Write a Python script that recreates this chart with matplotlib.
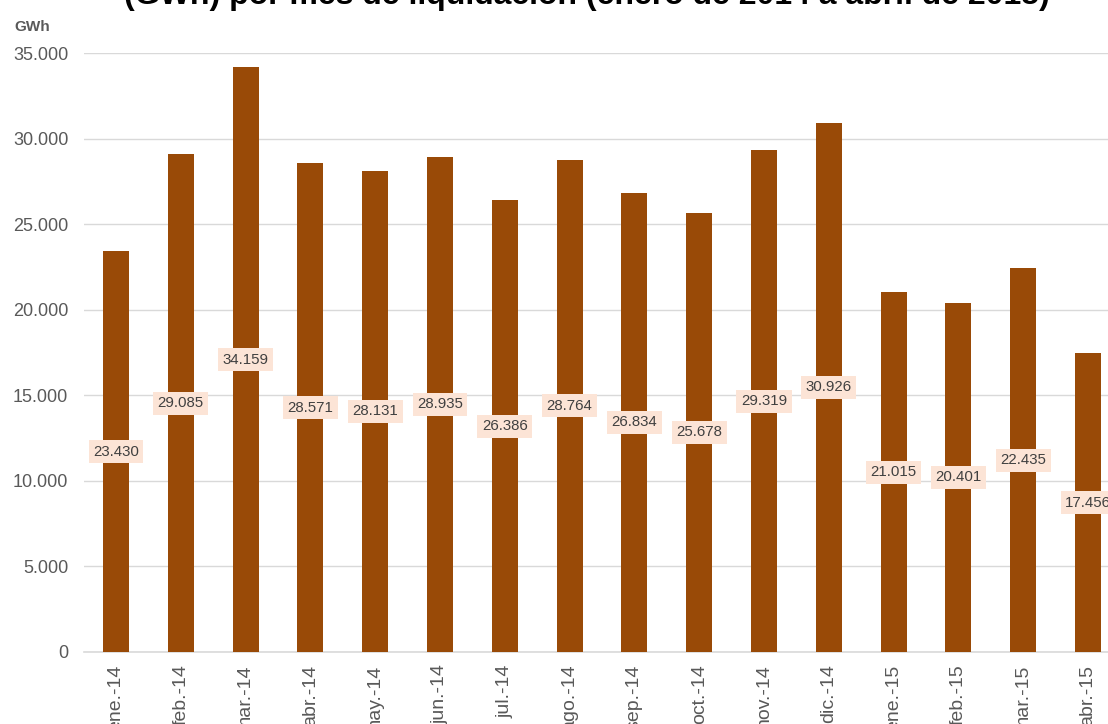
import matplotlib
matplotlib.use("Agg")
import matplotlib.pyplot as plt
from matplotlib.ticker import FuncFormatter, MultipleLocator

plt.rcParams["font.family"] = ["Liberation Sans", "DejaVu Sans"]

# Energía liquidada por mes (GWh)
months = ["ene.-14", "feb.-14", "mar.-14", "abr.-14", "may.-14", "jun.-14",
          "jul.-14", "ago.-14", "sep.-14", "oct.-14", "nov.-14", "dic.-14",
          "ene.-15", "feb.-15", "mar.-15", "abr.-15"]
energy_gwh = [23430, 29085, 34159, 28571, 28131, 28935, 26386, 28764,
              26834, 25678, 29319, 30926, 21015, 20401, 22435, 17456]

title = "(GWh) por mes de liquidación (enero de 2014 a abril de 2015)"
unit_label = "GWh"

BAR_COLOR = "#994A07"
LABEL_BG = "#FCE4D6"
TEXT_DARK = "#404040"
TICK_GRAY = "#595959"
GRID_GRAY = "#D9D9D9"

W, H = 1108, 724
fig = plt.figure(figsize=(W / 100, H / 100), dpi=100)

left_px, bottom_px, top_px = 83.6, 652, 53
slot_px = 64.8
ax = fig.add_axes([left_px / W, (H - bottom_px) / H,
                   slot_px * len(months) / W, (bottom_px - top_px) / H])

x = list(range(len(months)))
ax.bar(x, energy_gwh, width=0.40, color=BAR_COLOR, zorder=3)

for xi, v in zip(x, energy_gwh):
    ax.text(xi, v / 2, f"{v:,}".replace(",", "."), ha="center", va="center",
            fontsize=10.8, color=TEXT_DARK, zorder=4,
            bbox=dict(boxstyle="square,pad=0.3", fc=LABEL_BG, ec="none"))

ax.set_xlim(-0.5, len(months) - 0.5)
ax.set_ylim(0, 35000)
ax.yaxis.set_major_locator(MultipleLocator(5000))
ax.yaxis.set_major_formatter(FuncFormatter(lambda v, p: f"{int(v):,}".replace(",", ".")))
ax.grid(axis="y", color=GRID_GRAY, linewidth=1.0, zorder=0)
ax.set_axisbelow(True)

for side in ("top", "right", "left"):
    ax.spines[side].set_visible(False)
ax.spines["bottom"].set_color(GRID_GRAY)
ax.spines["bottom"].set_linewidth(1.2)

ax.set_xticks(x)
ax.set_xticklabels(months, rotation=90, fontsize=14, color=TICK_GRAY)
ax.tick_params(axis="x", length=0, pad=9)
ax.tick_params(axis="y", length=0, pad=11, labelsize=13, labelcolor=TICK_GRAY)

fig.text(14 / W, 1 - 31 / H, unit_label, fontsize=11, fontweight="bold",
         color=TICK_GRAY, ha="left", va="baseline")
fig.text(587 / W, 1 - 4 / H, title, fontsize=23, fontweight="bold",
         color="black", ha="center", va="baseline")

fig.savefig("out.png", dpi=100)
